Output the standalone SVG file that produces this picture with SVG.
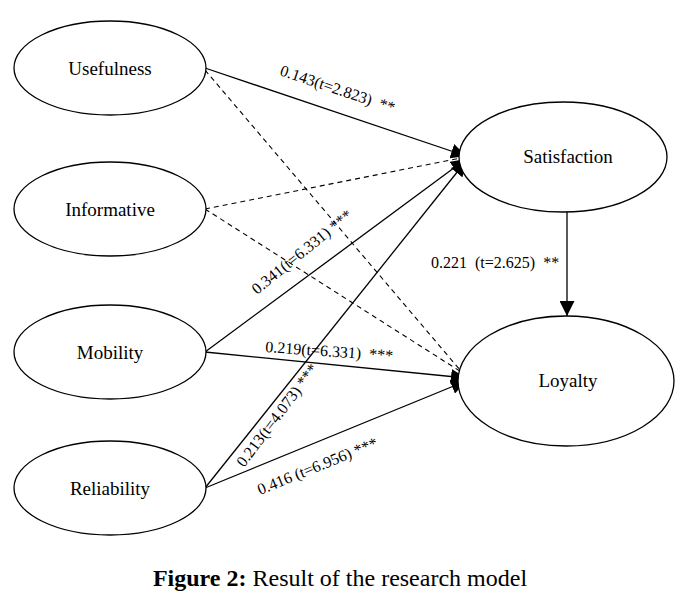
<svg xmlns="http://www.w3.org/2000/svg" width="682" height="607" viewBox="0 0 682 607">
<style>
.n{fill:#fff;stroke:#000;stroke-width:1.3}
.t{font-family:"Liberation Serif","Times New Roman",serif;font-size:19px;fill:#000;text-anchor:middle}
.l{font-family:"Liberation Serif","Times New Roman",serif;font-size:16px;fill:#000;white-space:pre}
.s{stroke:#000;stroke-width:1.3;fill:none}
.d{stroke:#000;stroke-width:1.1;fill:none;stroke-dasharray:5,4}
</style>
<defs>
<marker id="b" viewBox="0 0 10 10" refX="10" refY="5" markerWidth="15" markerHeight="15" markerUnits="userSpaceOnUse" orient="auto"><path d="M0,0L10,5L0,10z" fill="#000"/></marker>
</defs>
<rect width="682" height="607" fill="#fff"/>
<g id="connectors">
<line class="s" x1="205" y1="68" x2="466" y2="156" marker-end="url(#b)"/>
<line class="d" x1="205" y1="70" x2="466" y2="377"/>
<line class="d" x1="205" y1="209" x2="466" y2="157"/>
<line class="d" x1="205" y1="209" x2="466" y2="375"/>
<line class="s" x1="205" y1="352" x2="466" y2="159" marker-end="url(#b)"/>
<line class="s" x1="205" y1="352" x2="466" y2="378" marker-end="url(#b)"/>
<line class="s" x1="205" y1="488" x2="466" y2="161" marker-end="url(#b)"/>
<line class="s" x1="205" y1="488" x2="466" y2="381" marker-end="url(#b)"/>
<line class="s" x1="567" y1="212" x2="567" y2="316" marker-end="url(#b)"/>
<text class="l" xml:space="preserve" transform="translate(279,75) rotate(18.5)">0.143(t=2.823)  **</text>
<text class="l" xml:space="preserve" transform="translate(257,295) rotate(-39)">0.341(t=6.331) ***</text>
<text class="l" xml:space="preserve" transform="translate(244,468) rotate(-53)">0.213(t=4.073) ***</text>
<text class="l" xml:space="preserve" transform="translate(265,352) rotate(4)">0.219(t=6.331)  ***</text>
<text class="l" xml:space="preserve" transform="translate(260,495) rotate(-22)">0.416 (t=6.956) ***</text>
<text class="l" xml:space="preserve" x="431" y="268">0.221  (t=2.625)  **</text>
</g>
<g id="usefulness"><ellipse class="n" cx="110" cy="68" rx="96" ry="47"/><text class="t" x="110" y="75">Usefulness</text></g>
<g id="informative"><ellipse class="n" cx="110" cy="209" rx="96" ry="47"/><text class="t" x="110" y="216">Informative</text></g>
<g id="mobility"><ellipse class="n" cx="110" cy="352" rx="96" ry="47"/><text class="t" x="110" y="359">Mobility</text></g>
<g id="reliability"><ellipse class="n" cx="110" cy="488" rx="96" ry="47"/><text class="t" x="110" y="495">Reliability</text></g>
<g id="satisfaction"><ellipse class="n" cx="563" cy="157" rx="104" ry="55"/><text class="t" x="568" y="163">Satisfaction</text></g>
<g id="loyalty"><ellipse class="n" cx="566" cy="381" rx="108" ry="65"/><text class="t" x="568" y="387">Loyalty</text></g>
<text x="340" y="586" font-family="Liberation Serif,'Times New Roman',serif" font-size="24" text-anchor="middle"><tspan font-weight="bold">Figure 2:</tspan> Result of the research model</text>
</svg>
